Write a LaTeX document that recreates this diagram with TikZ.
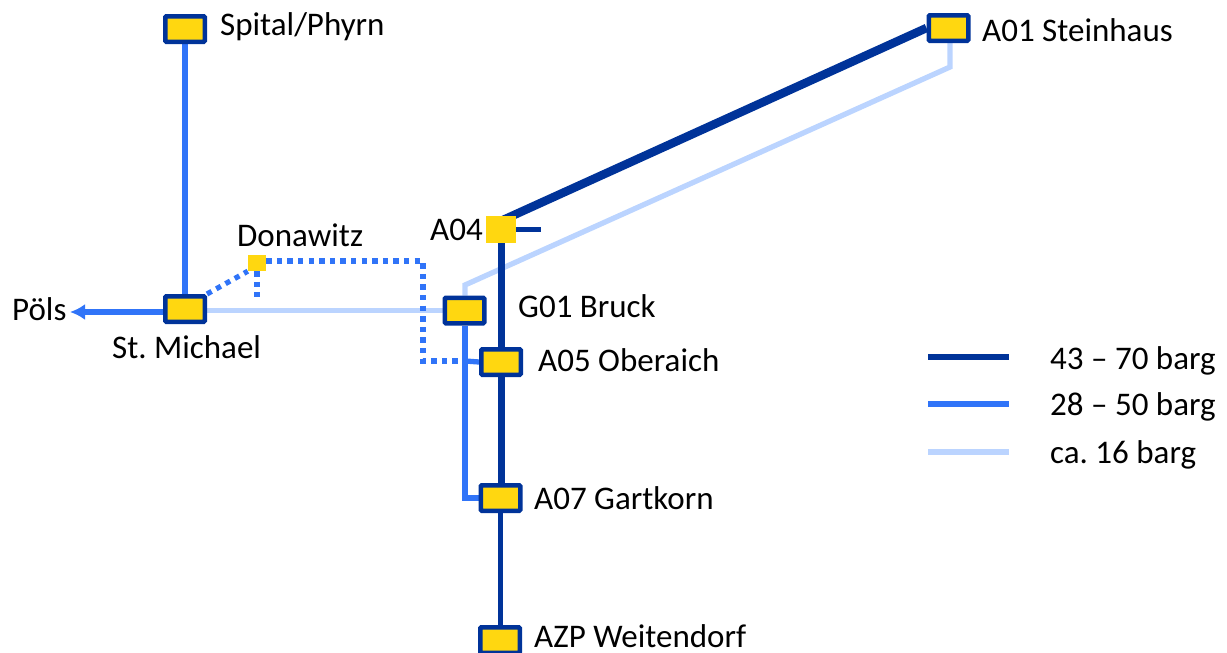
\documentclass[tikz,border=0pt]{standalone}
\usepackage{fontspec}
\setmainfont{Carlito}
\usetikzlibrary{backgrounds,arrows.meta}
\definecolor{hi}{HTML}{003399}
\definecolor{mid}{HTML}{3074F8}
\definecolor{lo}{HTML}{BBD4FF}
\definecolor{yel}{HTML}{FFD710}
\tikzset{
  x=1pt,y=-1pt,
  station/.style={draw=hi,line width=4.5pt,fill=yel,rounded corners=1pt,minimum width=39.5pt,minimum height=25.5pt,inner sep=0pt},
  sqbig/.style={fill=yel,draw=none,minimum width=30pt,minimum height=27pt,inner sep=0pt},
  sqsmall/.style={fill=yel,draw=none,minimum width=18pt,minimum height=16pt,inner sep=0pt},
  lbl/.style={anchor=base west,inner sep=0pt,font=\fontsize{33}{36}\selectfont\frenchspacing},
  hiD/.style={draw=hi,line width=8.5pt},
  hiT/.style={draw=hi,line width=7.5pt},
  hiK/.style={draw=hi,line width=6pt},
  hiN/.style={draw=hi,line width=5pt},
  midL/.style={draw=mid,line width=5.3pt},
  midD/.style={draw=mid,line width=5.2pt,dash pattern=on 5.3pt off 5.3pt},
  loL/.style={draw=lo,line width=5.3pt},
}
\begin{document}
\begin{tikzpicture}
\useasboundingbox (0,0) rectangle (1227,653);
\begin{scope}
\clip (0,0) rectangle (1227,653);
\node[station] (sp) at (185,29) {};
\node[station] (a01) at (948.5,28) {};
\node[station] (sm) at (185,309) {};
\node[station] (g01) at (464.5,310.5) {};
\node[station] (a05) at (501,362) {};
\node[station] (a07) at (500.5,498) {};
\node[station] (azp) at (500,640) {};
\end{scope}
\node[sqbig] (a04) at (501,229.5) {};
\node[sqsmall] (don) at (257,263) {};
\coordinate (stub) at (541,229);
\coordinate (pols) at (70,312);
\coordinate (donE) at (257,297);
\coordinate (c1) at (423,261);
\coordinate (c2) at (423,361);
\coordinate (j05) at (465,361);
\coordinate (l1) at (950,67);
\coordinate (l2) at (465,285);
\coordinate (g07) at (465,498);
\coordinate (a04t) at (503,220);
\coordinate (hx) at (501.7,0);
\node[lbl] (tsp) at (220,35) {Spital/Phyrn};
\node[lbl] (ta01) at (982,41) {A01 Steinhaus};
\node[lbl] (ta04) at (430,240) {A04};
\node[lbl] (tdon) at (237,246) {Donawitz};
\node[lbl] (tpol) at (12,320) {Pöls};
\node[lbl] (tsm) at (112,358) {St. Michael};
\node[lbl] (tg01) at (518,317) {G01 Bruck};
\node[lbl] (ta05) at (538,371) {A05 Oberaich};
\node[lbl] (ta07) at (534,509) {A07 Gartkorn};
\node[lbl] (tazp) at (534,647) {AZP Weitendorf};
\node[lbl] (t1) at (1050,369) {43 – 70 barg};
\node[lbl] (t2) at (1050,415) {28 – 50 barg};
\node[lbl] (t3) at (1050,463) {ca. 16 barg};
\coordinate (k1a) at (928,356.5);
\coordinate (k1b) at (1009,356.5);
\coordinate (k2a) at (928,404);
\coordinate (k2b) at (1009,404);
\coordinate (k3a) at (928,452);
\coordinate (k3b) at (1009,452);
\begin{scope}[on background layer]
\path[loL] (a01.south -| l1) -- (l1) -- (l2) -- (g01.north -| l2);
\path[loL] (sm.east |- g01.west) -- (g01.west);
\path[midL] (sp) -- (sm);
\path[midL] (g01.south -| l2) -- (g07) -- (a07.west);
\path[midL] (j05) -- (a05.west);
\path[midL,line width=6pt,-{Latex[length=15pt,width=16pt]}] (sm.west |- pols) -- (pols);
\path[midD] (sm.north east) -- (don.south west);
\path[midD] (don.south) -- (donE);
\path[midD] (don.east |- c1) -- (c1) -- (c2) -- (j05);
\path[hiD] (a01.west) -- (a04t);
\path[hiT] (a04.south -| hx) -- (a07.north -| hx);
\path[hiN] (a07.south -| azp) -- (azp.north);
\path[hiN] (a04.east |- stub) -- (stub);
\end{scope}
\path[hiK] (k1a) -- (k1b);
\path[midL] (k2a) -- (k2b);
\path[loL] (k3a) -- (k3b);
\end{tikzpicture}
\end{document}
